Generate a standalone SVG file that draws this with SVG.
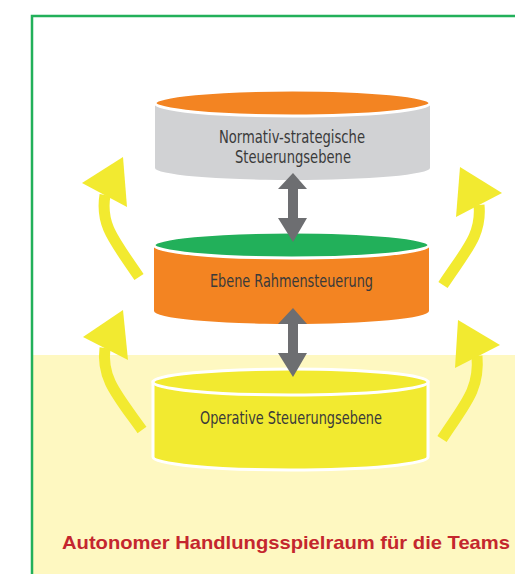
<svg xmlns="http://www.w3.org/2000/svg" width="515" height="574" viewBox="0 0 515 574">
<style>
.lbl{font-family:"DejaVu Sans Condensed","Liberation Sans",sans-serif;font-size:17px;fill:#3a3a3a;text-anchor:middle}
.title{font-family:"Liberation Sans",Arial,sans-serif;font-weight:bold;font-size:19px;fill:#C4262E}
.rim{stroke:#ffffff;stroke-width:3}
.curve{fill:none;stroke:#F2EA30;stroke-width:11}
.head{fill:#F2EA30}
.dbl{fill:#6D6E71}
</style>
<rect x="0" y="0" width="515" height="574" fill="#ffffff"/>
<rect x="31" y="355" width="484" height="219" fill="#FEF8C1"/>
<path d="M32,574 V16 H515" fill="none" stroke="#22B05A" stroke-width="2.5"/>

<g id="node-normativ">
  <path d="M155,103 V168 A137.5,12 0 0 0 430,168 V103 Z" fill="#D1D2D4"/>
  <ellipse cx="292.5" cy="103" rx="137.5" ry="13" fill="#F38422" class="rim"/>
  <text class="lbl" x="292" y="143" textLength="146" lengthAdjust="spacingAndGlyphs">Normativ-strategische</text>
  <text class="lbl" x="293" y="163" textLength="116" lengthAdjust="spacingAndGlyphs">Steuerungsebene</text>
</g>

<g id="node-rahmen">
  <path d="M154,245 V311 A137.5,13 0 0 0 429,311 V245 Z" fill="#F38422"/>
  <ellipse cx="291.5" cy="245" rx="137.5" ry="13" fill="#22B05A" class="rim"/>
  <text class="lbl" x="291.5" y="287" textLength="163" lengthAdjust="spacingAndGlyphs">Ebene Rahmensteuerung</text>
</g>

<g id="node-operativ">
  <path d="M153,382 V457 A137.5,13 0 0 0 428,457 V382 Z" fill="#F2EA30" class="rim"/>
  <ellipse cx="290.5" cy="382" rx="137.5" ry="13" fill="#F2EA30" class="rim"/>
  <text class="lbl" x="291" y="424" textLength="182" lengthAdjust="spacingAndGlyphs">Operative Steuerungsebene</text>
</g>

<g id="connectors">
  <path class="dbl" d="M293,173 L307,189 H298 V218 H307 L293,242 L278,218 H288 V189 H278 Z"/>
  <path class="dbl" d="M293,308 L307,324 H298 V353 H307 L293,377 L278,353 H288 V324 H278 Z"/>

  <path class="curve" d="M139,277 C114,240 100,225 105,195"/>
  <polygon class="head" points="123,157 82,183 127,207"/>
  <path class="curve" d="M142,430 C117,395 101,378 105,348"/>
  <polygon class="head" points="123,310 83,337 128,360"/>
  <path class="curve" d="M443,285 C466,250 482,235 479,205"/>
  <polygon class="head" points="460,167 502,193 456,217"/>
  <path class="curve" d="M442,439 C464,405 480,390 477,356"/>
  <polygon class="head" points="458,320 500,345 455,368"/>
</g>

<text class="title" x="62" y="549" textLength="448" lengthAdjust="spacingAndGlyphs">Autonomer Handlungsspielraum für die Teams</text>
</svg>
